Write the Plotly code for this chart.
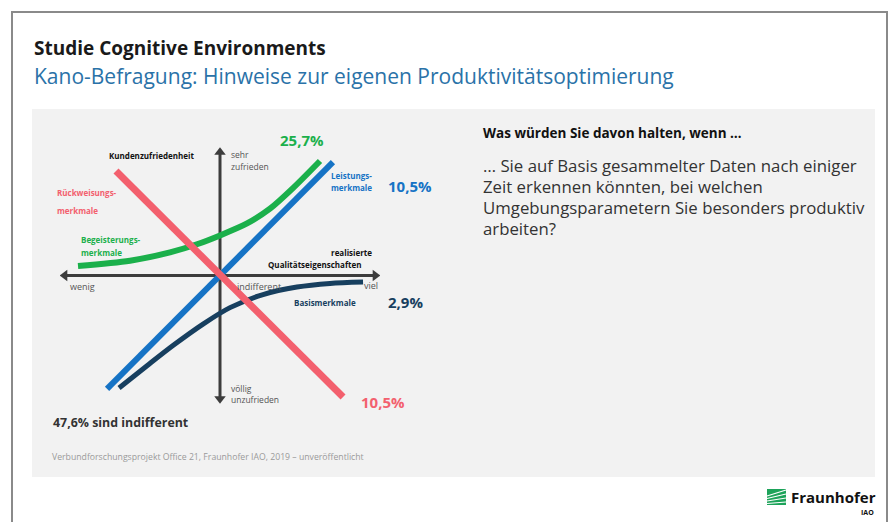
import plotly.graph_objects as go

W, H = 890, 522

# ---------------- data (Kano diagram, normalized units: origin = 0, axis tips = +-1) -------------
red_x = [-0.65, 0.769]          # Rückweisungsmerkmale
red_y = [0.813, -0.946]
blue_x = [-0.706, 0.706]        # Leistungsmerkmale
blue_y = [-0.883, 0.883]
green_x = [-0.8875, -0.5625, -0.3125, -0.144, 0.0, 0.169, 0.3125, 0.456, 0.625]   # Begeisterungsmerkmale
green_y = [0.074, 0.115, 0.180, 0.243, 0.312, 0.405, 0.520, 0.680, 0.891]
navy_x = [-0.631, -0.456, -0.294, -0.106, 0.0625, 0.269, 0.481, 0.6875, 0.894]    # Basismerkmale
navy_y = [-0.875, -0.702, -0.545, -0.378, -0.250, -0.148, -0.090, -0.062, -0.051]

share_labels = ["25,7%", "10,5%", "2,9%", "10,5%"]
indifferent_label = "47,6% sind indifferent"

RED = "#F3606E"
BLUE = "#1673C5"
GREEN = "#1BB04B"
NAVY = "#173F5F"
AXIS = "#3C3C3C"
GRAYTXT = "#555555"
FONT = "Open Sans"


def px(x):
    return x / W


def py(y):
    return 1 - y / H


fig = go.Figure()

# axes of the Kano diagram
fig.add_trace(go.Scatter(x=[-0.97, 0.97], y=[0, 0], mode="lines",
                         line=dict(color=AXIS, width=3), hoverinfo="skip"))
fig.add_trace(go.Scatter(x=[0, 0], y=[-0.96, 0.96], mode="lines",
                         line=dict(color=AXIS, width=3), hoverinfo="skip"))
fig.add_trace(go.Scatter(x=[-0.97, 0.97, 0, 0], y=[0, 0, 0.96, -0.96], mode="markers",
                         marker=dict(symbol=["triangle-left", "triangle-right", "triangle-up", "triangle-down"],
                                     size=10, color=AXIS), hoverinfo="skip"))

# curves
fig.add_trace(go.Scatter(x=green_x, y=green_y, mode="lines",
                         line=dict(color=GREEN, width=6, shape="spline", smoothing=0.8)))
fig.add_trace(go.Scatter(x=navy_x, y=navy_y, mode="lines",
                         line=dict(color=NAVY, width=5, shape="spline", smoothing=0.8)))
fig.add_trace(go.Scatter(x=blue_x, y=blue_y, mode="lines", line=dict(color=BLUE, width=6)))
fig.add_trace(go.Scatter(x=red_x, y=red_y, mode="lines", line=dict(color=RED, width=7)))

ann = []


def T(text, x, y, size, color, bold=False, xa="left", ya="middle"):
    ann.append(dict(text=("<b>%s</b>" % text) if bold else text, x=px(x), y=py(y),
                    xref="paper", yref="paper", xanchor=xa, yanchor=ya, showarrow=False,
                    font=dict(family=FONT, size=size, color=color)))


# header
T("Studie Cognitive Environments", 32, 48, 19, "#1A1A1A", bold=True)
T("Kano-Befragung: Hinweise zur eigenen Produktivitätsoptimierung", 32, 76, 21, "#2A72A8")

# diagram labels
T("Kundenzufriedenheit", 107, 155, 8, "#111111", bold=True)
T("sehr", 229, 154, 8.5, GRAYTXT)
T("zufrieden", 229, 166, 8.5, GRAYTXT)
T(share_labels[0], 302, 140, 15, GREEN, bold=True, xa="center")
T("Leistungs-", 374, 176, 8, BLUE, bold=True, xa="right")
T("merkmale", 374, 187, 8, BLUE, bold=True, xa="right")
T(share_labels[1], 410, 186, 15, BLUE, bold=True, xa="center")
T("Rückweisungs-", 55, 192, 8, RED, bold=True)
T("merkmale", 55, 210, 8, RED, bold=True)
T("Begeisterungs-", 79, 239, 8, GREEN, bold=True)
T("merkmale", 79, 252, 8, GREEN, bold=True)
T("realisierte", 374, 252, 8, "#111111", bold=True, xa="right")
T("Qualitätseigenschaften", 364, 264, 8, "#111111", bold=True, xa="right")
T("wenig", 68, 286, 9, GRAYTXT)
T("indifferent", 235, 286, 9, GRAYTXT)
T("viel", 380, 285, 9, GRAYTXT, xa="right")
T("Basismerkmale", 292, 302, 8, NAVY, bold=True)
T(share_labels[2], 405, 302, 15, NAVY, bold=True, xa="center")
T("völlig", 229, 388, 8.5, GRAYTXT)
T("unzufrieden", 229, 399, 8.5, GRAYTXT)
T(share_labels[3], 383, 402, 15, RED, bold=True, xa="center")
T(indifferent_label, 51, 422, 12.4, "#333333", bold=True)
T("Verbundforschungsprojekt Office 21, Fraunhofer IAO, 2019 – unveröffentlicht", 50, 457, 8.7, "#9A9A9A")

# right-hand text
T("Was würden Sie davon halten, wenn …", 481, 133, 13.5, "#111111", bold=True)
body = ["… Sie auf Basis gesammelter Daten nach einiger",
        "Zeit erkennen könnten, bei welchen",
        "Umgebungsparametern Sie besonders produktiv",
        "arbeiten?"]
for i, line in enumerate(body):
    T(line, 481, 165 + 21 * i, 16.8, "#333333")

# logo text
T("Fraunhofer", 789, 497, 15, "#111111", bold=True)
T("IAO", 876, 512, 7, "#111111", bold=True, xa="right")

shapes = [
    # slide frame
    dict(type="rect", xref="paper", yref="paper", x0=px(12), x1=px(887), y0=-0.1, y1=py(12),
         line=dict(color="#8A8A8A", width=2), fillcolor="rgba(0,0,0,0)", layer="below"),
    # grey panel
    dict(type="rect", xref="paper", yref="paper", x0=px(32), x1=px(875), y0=py(477), y1=py(109),
         line=dict(width=0), fillcolor="#F2F2F2", layer="below"),
    # logo icon
    dict(type="rect", xref="paper", yref="paper", x0=px(767), x1=px(786), y0=py(505), y1=py(489),
         line=dict(width=0), fillcolor="#1DA35A", layer="above"),
]
for k in range(4):
    yy = 492 + 3.5 * k
    shapes.append(dict(type="line", xref="paper", yref="paper", x0=px(767), x1=px(786),
                       y0=py(yy + 4 - k), y1=py(yy - 2 + k * 0.5),
                       line=dict(color="white", width=1.2), layer="above"))

fig.update_layout(
    width=W, height=H, margin=dict(l=0, r=0, t=0, b=0),
    paper_bgcolor="white", plot_bgcolor="rgba(0,0,0,0)",
    showlegend=False,
    xaxis=dict(domain=[px(60), px(380)], range=[-1, 1], visible=False, fixedrange=True),
    yaxis=dict(domain=[py(404), py(147)], range=[-1, 1], visible=False, fixedrange=True),
    annotations=ann, shapes=shapes,
)

fig.write_html("out.html", config={"displayModeBar": False},
               post_script="document.body.style.margin='0';document.body.style.overflow='hidden';")
